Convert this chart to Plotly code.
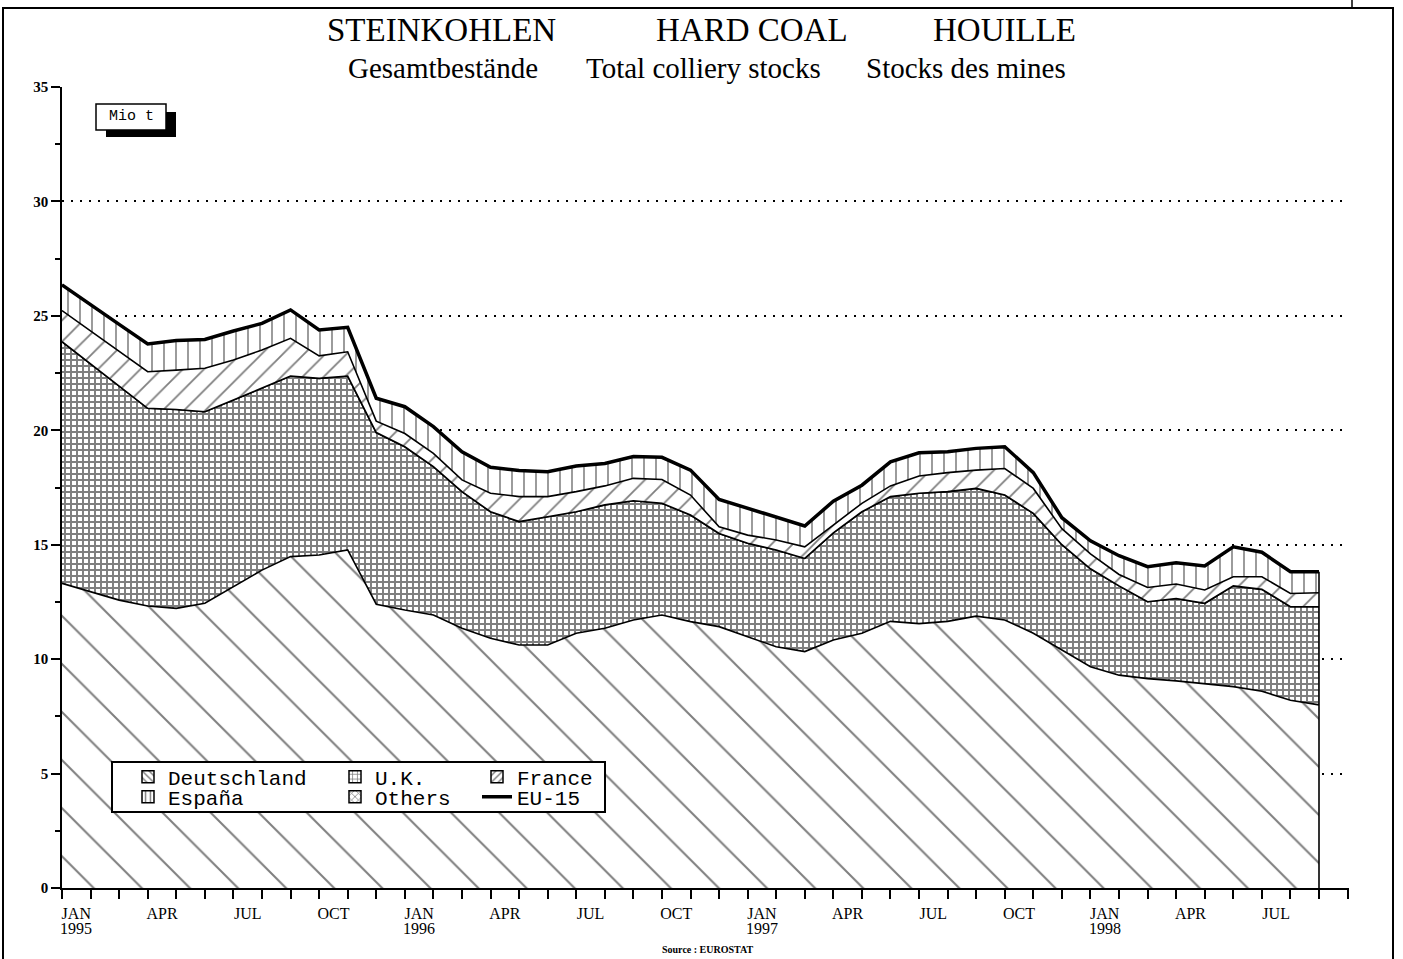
import plotly.graph_objects as go

# ---------------- data (Mio t, monthly, Jan 1995 .. Sep 1998) ----------------
months = list(range(45))
tick_text = ["JAN", "APR", "JUL", "OCT",
             "JAN", "APR", "JUL", "OCT",
             "JAN", "APR", "JUL", "OCT",
             "JAN", "APR", "JUL"]
years = ["1995", "1996", "1997", "1998"]

deutschland = [13.31, 12.95, 12.58, 12.32, 12.22, 12.44, 13.17, 13.89, 14.48, 14.55, 14.77,
               12.40, 12.15, 11.93, 11.35, 10.91, 10.62, 10.62, 11.13, 11.35, 11.71, 11.93, 11.64,
               11.42, 10.98, 10.54, 10.33, 10.84, 11.13, 11.65, 11.55, 11.65, 11.88, 11.71,
               11.13, 10.40, 9.67, 9.30, 9.15, 9.05, 8.91, 8.80, 8.60, 8.20, 8.00]
uk = [10.56, 9.95, 9.34, 8.64, 8.69, 8.37, 8.15, 7.94, 7.89, 7.72, 7.60,
      7.50, 7.13, 6.48, 5.97, 5.53, 5.39, 5.60, 5.31, 5.39, 5.21, 4.88, 4.66,
      4.07, 4.08, 4.23, 4.07, 4.68, 5.31, 5.45, 5.70, 5.67, 5.58, 5.46,
      5.24, 4.60, 4.28, 3.90, 3.36, 3.60, 3.53, 4.40, 4.45, 4.09, 4.29]
others = [0.0, 0.0, 0.0, 0.0, 0.0, 0.0, 0.0, 0.0, 0.0, 0.0, 0.0,
          0.0, 0.0, 0.0, 0.0, 0.0, 0.0, 0.0, 0.0, 0.0, 0.0, 0.0, 0.0,
          0.0, 0.0, 0.0, 0.0, 0.0, 0.0, 0.0, 0.0, 0.0, 0.0, 0.0,
          0.0, 0.0, 0.0, 0.0, 0.0, 0.0, 0.0, 0.0, 0.0, 0.0, 0.0]
france = [1.36, 1.44, 1.53, 1.60, 1.72, 1.90, 1.75, 1.68, 1.65, 0.98, 1.06,
          0.50, 0.58, 0.58, 0.51, 0.81, 1.09, 0.88, 0.88, 0.83, 0.98, 1.04, 0.87,
          0.29, 0.36, 0.44, 0.51, 0.34, 0.37, 0.47, 0.75, 0.83, 0.80, 1.16,
          1.09, 0.70, 0.65, 0.50, 0.62, 0.63, 0.58, 0.40, 0.55, 0.58, 0.61]
espana = [1.12, 1.13, 1.18, 1.21, 1.29, 1.26, 1.27, 1.16, 1.24, 1.13, 1.07,
          1.00, 1.17, 1.17, 1.23, 1.13, 1.14, 1.09, 1.12, 0.98, 0.95, 0.97, 1.09,
          1.20, 1.17, 1.01, 0.91, 1.04, 0.79, 1.05, 1.02, 0.91, 0.95, 0.95,
          0.69, 0.48, 0.57, 0.82, 0.91, 0.93, 1.05, 1.31, 1.07, 0.95, 0.92]
eu15 = [26.35, 25.47, 24.63, 23.77, 23.92, 23.97, 24.34, 24.67, 25.26, 24.38, 24.50,
        21.40, 21.03, 20.16, 19.06, 18.38, 18.24, 18.19, 18.44, 18.55, 18.85, 18.82, 18.26,
        16.98, 16.59, 16.22, 15.82, 16.90, 17.60, 18.62, 19.02, 19.06, 19.21, 19.28,
        18.15, 16.18, 15.17, 14.52, 14.04, 14.21, 14.07, 14.91, 14.67, 13.82, 13.82]

# ---------------- geometry helpers (pixel -> paper) ----------------
W, H = 1403, 959
L, R, T, B = 62, 54, 87, 71
PW, PH = W - L - R, H - T - B


def px(p):
    return (p - L) / PW


def py(p):
    return (H - B - p) / PH


SERIF = "Liberation Serif"
MONO = "Liberation Mono"

fig = go.Figure()

# stacked patterned areas
layers = [
    ("Deutschland", deutschland, "\\", 34, 0.06),
    ("U.K.", uk, "+", 6, 0.55),
    ("Others", others, "x", 10, 0.15),
    ("France", france, "/", 15, 0.12),
    ("España", espana, "|", 12, 0.13),
]
for name, vals, shape, size, sol in layers:
    fig.add_trace(go.Scatter(
        x=months, y=vals, name=name, mode="lines", stackgroup="one",
        line=dict(color="black", width=1.6), fillcolor="white",
        fillpattern=dict(shape=shape, fgcolor="black", bgcolor="white",
                         size=size, solidity=sol),
        showlegend=False, hoverinfo="skip"))

fig.add_trace(go.Scatter(x=months, y=eu15, name="EU-15", mode="lines",
                         line=dict(color="black", width=3.5),
                         legend="legend6", hoverinfo="skip"))

# legend swatches (patterned boxes)
legend_items = [
    ("Deutschland", "\\", "legend"),
    ("España", "|", "legend2"),
    ("U.K.", "+", "legend3"),
    ("Others", "x", "legend4"),
    ("France", "/", "legend5"),
]
for name, shape, lg in legend_items:
    fig.add_trace(go.Bar(
        x=[None], y=[None], name=name, legend=lg,
        marker=dict(color="white", line=dict(color="black", width=1.5),
                    pattern=dict(shape=shape, fgcolor="black", bgcolor="white",
                                 size=6, solidity=0.3))))

leg_font = dict(family=MONO, size=21, color="black")
row1, row2 = py(777), py(797)
col1, col2, col3 = px(128), px(335), px(477)
legend_pos = {
    "legend": (col1, row1), "legend2": (col1, row2),
    "legend3": (col2, row1), "legend4": (col2, row2),
    "legend5": (col3, row1), "legend6": (col3, row2),
}
legend_layout = {}
for key, (lx, ly) in legend_pos.items():
    legend_layout[key] = dict(x=lx, y=ly, xanchor="left", yanchor="middle",
                              bgcolor="rgba(0,0,0,0)", borderwidth=0,
                              font=leg_font, itemclick=False)

shapes = [
    # page frame
    dict(type="rect", xref="paper", yref="paper", x0=px(3), x1=px(1393),
         y0=py(975), y1=py(8), line=dict(color="black", width=2), layer="above"),
    dict(type="line", xref="paper", yref="paper", x0=px(1352), x1=px(1352),
         y0=py(8), y1=py(0), line=dict(color="black", width=1.5), layer="above"),
    # "Mio t" box with shadow
    dict(type="rect", xref="paper", yref="paper", x0=px(106), x1=px(176),
         y0=py(137), y1=py(112), fillcolor="black", line=dict(width=0), layer="above"),
    dict(type="rect", xref="paper", yref="paper", x0=px(96), x1=px(166),
         y0=py(130), y1=py(104), fillcolor="white",
         line=dict(color="black", width=1.5), layer="above"),
    # legend frame
    dict(type="rect", xref="paper", yref="paper", x0=px(112), x1=px(605),
         y0=py(812), y1=py(762), fillcolor="white",
         line=dict(color="black", width=2), layer="above"),
    # right edge of the stacked area
    dict(type="line", xref="x", yref="y", x0=months[-1], x1=months[-1],
         y0=0, y1=eu15[-1], line=dict(color="black", width=1.6), layer="above"),
]

annotations = []
for txt, cx in [("STEINKOHLEN", 442), ("HARD COAL", 752), ("HOUILLE", 1004)]:
    annotations.append(dict(text=txt, x=px(cx), y=py(30), xref="paper", yref="paper",
                            showarrow=False, xanchor="center", yanchor="middle",
                            font=dict(family=SERIF, size=33, color="black")))
for txt, cx in [("Gesamtbestände", 443), ("Total colliery stocks", 703),
                ("Stocks des mines", 966)]:
    annotations.append(dict(text=txt, x=px(cx), y=py(68), xref="paper", yref="paper",
                            showarrow=False, xanchor="center", yanchor="middle",
                            font=dict(family=SERIF, size=29, color="black")))
# year labels under each JAN tick label
for i, yr in enumerate(years):
    annotations.append(dict(text=yr, x=months[12 * i] + 0.5, y=py(929),
                            xref="x", yref="paper", showarrow=False,
                            xanchor="center", yanchor="middle",
                            font=dict(family=SERIF, size=16, color="black")))
annotations.append(dict(text="Mio t", x=px(131), y=py(117), xref="paper", yref="paper",
                        showarrow=False, xanchor="center", yanchor="middle",
                        font=dict(family=MONO, size=15, color="black")))
annotations.append(dict(text="<b>Source : EUROSTAT</b>", x=px(708), y=py(949),
                        xref="paper", yref="paper", showarrow=False,
                        xanchor="center", yanchor="middle",
                        font=dict(family=SERIF, size=10, color="black")))

fig.update_layout(
    width=W, height=H, margin=dict(l=L, r=R, t=T, b=B),
    paper_bgcolor="white", plot_bgcolor="white",
    showlegend=True, hovermode=False,
    shapes=shapes, annotations=annotations,
    **legend_layout,
    xaxis=dict(type="linear", range=[0, 45.05], showline=True, linecolor="black",
               linewidth=1.5, showgrid=False, zeroline=False,
               tickmode="array", tickvals=[k + 0.5 for k in months[::3]],
               ticktext=tick_text, ticks="",
               tickfont=dict(family=SERIF, size=16, color="black"),
               ticklabelstandoff=10,
               minor=dict(tickmode="linear", tick0=0, dtick=1, ticks="outside",
                          ticklen=9, tickwidth=1.5, tickcolor="black", showgrid=False)),
    yaxis=dict(range=[0, 35], tickmode="linear", tick0=0, dtick=5,
               ticks="outside", ticklen=9, tickwidth=1.5, tickcolor="black",
               showline=True, linecolor="black", linewidth=1.5,
               showgrid=True, gridcolor="black", gridwidth=2, griddash="2px,7px",
               zeroline=False,
               tickfont=dict(family=SERIF, size=15, color="black", weight="bold"),
               minor=dict(tick0=0, dtick=2.5, ticks="outside", ticklen=5,
                          tickwidth=1.5, tickcolor="black", showgrid=False)),
)

fig.write_html("out.html",
               config={"displayModeBar": False},
               post_script="document.body.style.margin='0px';"
                           "document.body.style.padding='0px';")
